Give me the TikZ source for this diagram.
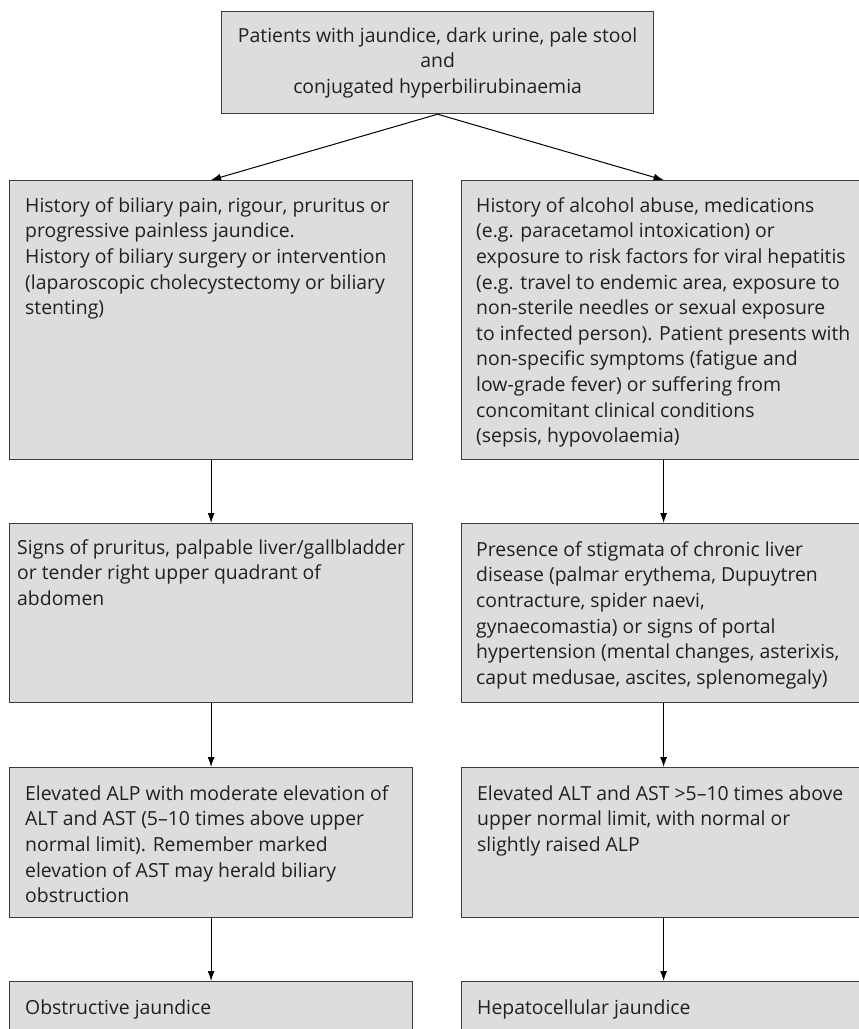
\documentclass[tikz,border=0pt]{standalone}
\usepackage{fontspec}
\setmainfont{Open Sans}
\usetikzlibrary{arrows.meta,calc}
\definecolor{boxfill}{RGB}{220,221,223}
\definecolor{boxline}{RGB}{60,60,60}
\definecolor{txtc}{RGB}{35,31,32}
\newcommand{\fstrut}{\rule{0pt}{15pt}}
\tikzset{
  flowbox/.style={draw=boxline, fill=boxfill, line width=1.2pt, rectangle, inner sep=0pt, anchor=north west},
  flowtext/.style={text=txtc, align=left, inner sep=0pt, anchor=north west, font=\fontsize{19.4}{25.6}\selectfont},
  flowarrow/.style={-{Latex[length=10pt,width=7pt]}, line width=1pt, draw=black}
}
\begin{document}
\begin{tikzpicture}[x=1pt,y=-1pt]
\useasboundingbox (0,0) rectangle (859,1029);
\clip (0,0) rectangle (859,1029);
\fill[white] (0,0) rectangle (859,1029);
% top
\node[flowbox, minimum width=432pt, minimum height=102pt, align=center, text=txtc,
      font=\fontsize{19.4}{25.6}\selectfont] (T) at (221,11)
  {Patients with jaundice, dark urine, pale stool\\and\\conjugated hyperbilirubinaemia};
% row 1
\node[flowbox, minimum width=403pt, minimum height=279pt] (L1) at (9,180) {};
\node[flowbox, minimum width=404pt, minimum height=279pt] (R1) at (461,180) {};
% row 2
\node[flowbox, minimum width=403pt, minimum height=179pt] (L2) at (9,523) {};
\node[flowbox, minimum width=404pt, minimum height=179pt] (R2) at (461,523) {};
% row 3
\node[flowbox, minimum width=403pt, minimum height=150pt] (L3) at (9,767) {};
\node[flowbox, minimum width=404pt, minimum height=150pt] (R3) at (461,767) {};
% row 4
\node[flowbox, minimum width=403pt, minimum height=90pt] (L4) at (9,981) {};
\node[flowbox, minimum width=404pt, minimum height=90pt] (R4) at (461,981) {};
% texts
\node[flowtext] (L1t) at ($(L1.north west)+(16,17)$)
  {\fstrut History of biliary pain, rigour, pruritus or\\progressive painless jaundice.\\History of biliary surgery or intervention\\(laparoscopic cholecystectomy or biliary\\stenting)};
\node[flowtext] (R1t) at ($(R1.north west)+(15,17)$)
  {\fstrut History of alcohol abuse, medications\\(e.g. paracetamol intoxication) or\\exposure to risk factors for viral hepatitis\\(e.g. travel to endemic area, exposure to\\non-sterile needles or sexual exposure\\to infected person). Patient presents with\\non-specific symptoms (fatigue and\\low-grade fever) or suffering from\\concomitant clinical conditions\\(sepsis, hypovolaemia)};
\node[flowtext] (L2t) at ($(L2.north west)+(8,16)$)
  {\fstrut Signs of pruritus, palpable liver/gallbladder\\or tender right upper quadrant of\\abdomen};
\node[flowtext] (R2t) at ($(R2.north west)+(15,18)$)
  {\fstrut Presence of stigmata of chronic liver\\disease (palmar erythema, Dupuytren\\contracture, spider naevi,\\gynaecomastia) or signs of portal\\hypertension (mental changes, asterixis,\\caput medusae, ascites, splenomegaly)};
\node[flowtext] (L3t) at ($(L3.north west)+(16,18)$)
  {\fstrut Elevated ALP with moderate elevation of\\ALT and AST (5–10 times above upper\\normal limit). Remember marked\\elevation of AST may herald biliary\\obstruction};
\node[flowtext] (R3t) at ($(R3.north west)+(16,18)$)
  {\fstrut Elevated ALT and AST >5–10 times above\\upper normal limit, with normal or\\slightly raised ALP};
\node[flowtext] (L4t) at ($(L4.north west)+(16,18)$) {\fstrut Obstructive jaundice};
\node[flowtext] (R4t) at ($(R4.north west)+(16,18)$) {\fstrut Hepatocellular jaundice};
% arrows
\draw[flowarrow] (T.south) -- (L1.north);
\draw[flowarrow] (T.south) -- (R1.north);
\draw[flowarrow] (L1.south) -- (L2.north);
\draw[flowarrow] (R1.south) -- (R2.north);
\draw[flowarrow] (L2.south) -- (L3.north);
\draw[flowarrow] (R2.south) -- (R3.north);
\draw[flowarrow] (L3.south) -- (L4.north);
\draw[flowarrow] (R3.south) -- (R4.north);
\end{tikzpicture}
\end{document}
